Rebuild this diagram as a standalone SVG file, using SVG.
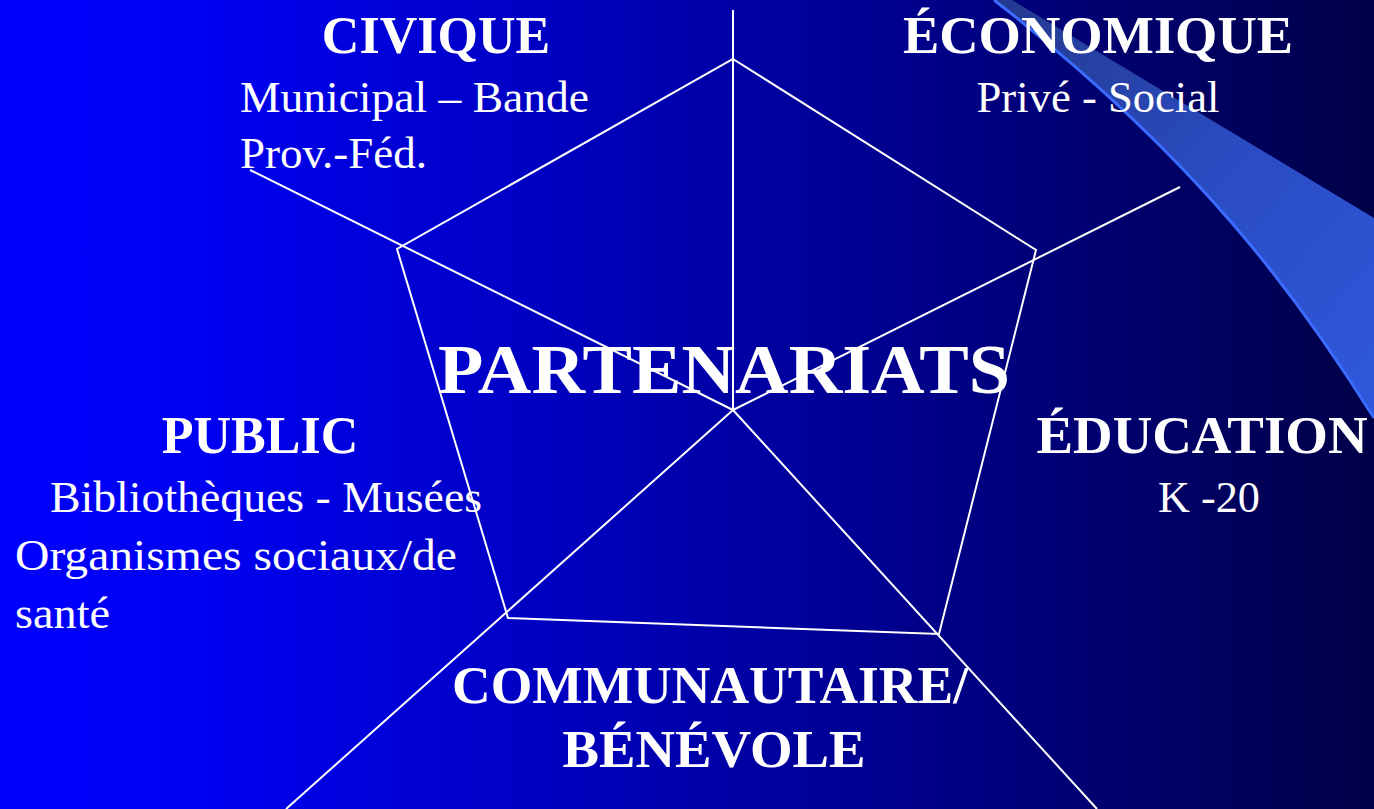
<svg xmlns="http://www.w3.org/2000/svg" width="1374" height="809" viewBox="0 0 1374 809">
<defs>
<linearGradient id="bg" x1="0" y1="0" x2="1" y2="0">
<stop offset="0" stop-color="#0000ff"/>
<stop offset="0.15" stop-color="#0000f2"/>
<stop offset="1" stop-color="#000048"/>
</linearGradient>
<linearGradient id="sw" x1="0" y1="0" x2="1" y2="1">
<stop offset="0" stop-color="#24398f"/>
<stop offset="0.5" stop-color="#2a4cc2"/>
<stop offset="1" stop-color="#2f58dc"/>
</linearGradient>
<style>
.ln{stroke:#ffffff;stroke-width:2;fill:none}
.t{fill:#ffffff;font-family:"Liberation Serif","Times New Roman",serif}
.h{font-weight:bold;font-size:52px}
.s{font-size:44px}
</style>
</defs>
<rect width="1374" height="809" fill="url(#bg)"/>
<g id="swoosh">
<path d="M994,0 L1012,0 L1374,218 L1374,418 C1300,300 1200,160 994,0 Z" fill="url(#sw)"/>
<path d="M994,0 C1200,160 1300,300 1374,418" stroke="#3b6cff" stroke-width="3" fill="none"/>
</g>
<g id="connectors">
<line class="ln" x1="733" y1="410" x2="733" y2="10" stroke-width="3"/>
<line class="ln" x1="733" y1="410" x2="1180" y2="187"/>
<line class="ln" x1="733" y1="410" x2="250" y2="170"/>
<line class="ln" x1="733" y1="410" x2="286" y2="809"/>
<line class="ln" x1="733" y1="410" x2="1097" y2="809"/>
<polygon class="ln" points="733,59 1036,250 939,634 508,618 397,249"/>
</g>
<g id="center">
<text class="t" x="724" y="393" font-size="70" font-weight="bold" text-anchor="middle" textLength="572" lengthAdjust="spacingAndGlyphs">PARTENARIATS</text>
</g>
<g id="civique">
<text class="t h" x="436" y="53" text-anchor="middle">CIVIQUE</text>
<text class="t s" x="240" y="112" textLength="349" lengthAdjust="spacingAndGlyphs">Municipal – Bande</text>
<text class="t s" x="240" y="168" textLength="187" lengthAdjust="spacingAndGlyphs">Prov.-Féd.</text>
</g>
<g id="economique">
<text class="t h" x="1098" y="53" text-anchor="middle" textLength="390" lengthAdjust="spacingAndGlyphs">ÉCONOMIQUE</text>
<text class="t s" x="1098" y="112" text-anchor="middle" textLength="243" lengthAdjust="spacingAndGlyphs">Privé - Social</text>
</g>
<g id="public">
<text class="t h" x="260" y="453" text-anchor="middle">PUBLIC</text>
<text class="t s" x="50" y="512" textLength="432" lengthAdjust="spacingAndGlyphs">Bibliothèques - Musées</text>
<text class="t s" x="15" y="570" textLength="442" lengthAdjust="spacingAndGlyphs">Organismes sociaux/de</text>
<text class="t s" x="15" y="628" textLength="95" lengthAdjust="spacingAndGlyphs">santé</text>
</g>
<g id="education">
<text class="t h" x="1202" y="453" text-anchor="middle" textLength="331" lengthAdjust="spacingAndGlyphs">ÉDUCATION</text>
<text class="t s" x="1209" y="512" text-anchor="middle" textLength="102" lengthAdjust="spacingAndGlyphs">K -20</text>
</g>
<g id="communautaire">
<text class="t h" x="710" y="703" text-anchor="middle" textLength="516" lengthAdjust="spacingAndGlyphs">COMMUNAUTAIRE/</text>
<text class="t h" x="714" y="767" text-anchor="middle" textLength="303" lengthAdjust="spacingAndGlyphs">BÉNÉVOLE</text>
</g>
</svg>
